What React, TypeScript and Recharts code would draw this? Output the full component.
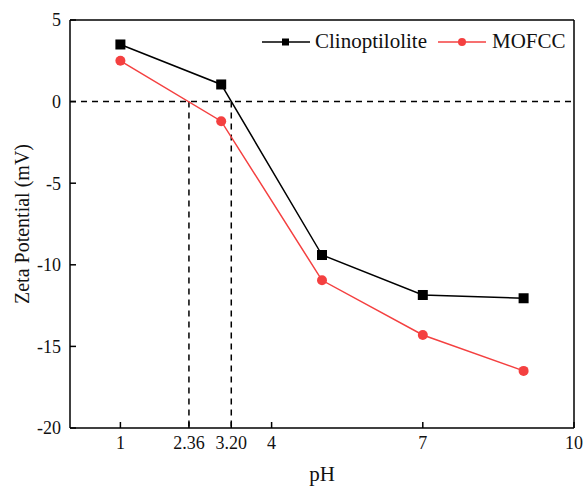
import React from 'react';
import {
  LineChart,
  Line,
  XAxis,
  YAxis,
  Legend,
  ReferenceLine,
} from 'recharts';

const phValues = [1, 3, 5, 7, 9];
const clinoptilolite = [3.5, 1.05, -9.4, -11.85, -12.05];
const mofcc = [2.5, -1.2, -10.95, -14.3, -16.5];
const xTicks = [1, 2.36, 3.2, 4, 7, 10];
const yTicks = [5, 0, -5, -10, -15, -20];
const isoPoints = [2.36, 3.2];

const FONT = '"Liberation Serif", "Times New Roman", serif';
const RED = '#f44040';

const data = phValues.map((ph, i) => ({
  ph,
  clino: clinoptilolite[i],
  mofcc: mofcc[i],
}));

const formatX = (v: number) => (v === 2.36 ? '2.36' : v === 3.2 ? '3.20' : String(v));

const SquareDot = (props: any) => {
  const { cx, cy, index } = props;
  if (cx == null || cy == null) return null;
  return <rect key={`sq-${index}`} x={cx - 5} y={cy - 5} width={10} height={10} fill="#000" />;
};

const CircleDot = (props: any) => {
  const { cx, cy, index } = props;
  if (cx == null || cy == null) return null;
  return <circle key={`ci-${index}`} cx={cx} cy={cy} r={5} fill={RED} />;
};

// legend drawn like the origin-style one: line with marker in the middle
const CustomLegend = () => (
  <div style={{ display: 'flex', alignItems: 'center', fontFamily: FONT, fontSize: 21, color: '#111', whiteSpace: 'nowrap' }}>
    <svg width={48} height={14}>
      <line x1={0} y1={7} x2={48} y2={7} stroke="#000" strokeWidth={1.5} />
      <rect x={20} y={3.5} width={7} height={7} fill="#000" />
    </svg>
    <span style={{ marginLeft: 5 }}>Clinoptilolite</span>
    <svg width={48} height={14} style={{ marginLeft: 11 }}>
      <line x1={0} y1={7} x2={48} y2={7} stroke={RED} strokeWidth={1.5} />
      <circle cx={24} cy={7} r={4} fill={RED} />
    </svg>
    <span style={{ marginLeft: 6 }}>MOFCC</span>
  </div>
);

const tickStyle = { fill: '#111', fontSize: 18, fontFamily: FONT, style: { fontFamily: FONT } };

export default function App() {
  return (
    <div style={{ position: 'absolute', left: 0, top: 0, width: 584, height: 486, background: '#fff', fontFamily: FONT }}>
      <LineChart
        width={584}
        height={486}
        data={data}
        margin={{ top: 20, right: 10, bottom: 0, left: 0 }}
        style={{ fontFamily: FONT }}
      >
        <XAxis
          dataKey="ph"
          type="number"
          domain={[0, 10]}
          ticks={xTicks}
          tickFormatter={formatX}
          height={58}
          stroke="#000"
          strokeWidth={1.5}
          tickSize={-6}
          tickMargin={14}
          tick={tickStyle}
          interval={0}
          label={{ value: 'pH', position: 'center', dy: 17, fill: '#111', fontSize: 21, fontFamily: FONT, style: { fontFamily: FONT } }}
        />
        <YAxis
          type="number"
          domain={[-20, 5]}
          ticks={yTicks}
          width={70}
          stroke="#000"
          strokeWidth={1.5}
          tickSize={-6}
          tickMargin={15}
          tick={tickStyle}
          interval={0}
          label={{ value: 'Zeta Potential (mV)', angle: -90, position: 'center', dx: -13, fill: '#111', fontSize: 20, fontFamily: FONT, style: { fontFamily: FONT } }}
        />
        {/* close the frame on top and right */}
        <ReferenceLine y={5} stroke="#000" strokeWidth={1.5} />
        <ReferenceLine x={10} stroke="#000" strokeWidth={1.5} />
        <ReferenceLine y={0} stroke="#000" strokeWidth={1.5} strokeDasharray="6 5" />
        {isoPoints.map((p) => (
          <ReferenceLine
            key={p}
            segment={[{ x: p, y: 0 }, { x: p, y: -20 }]}
            stroke="#000"
            strokeWidth={1.5}
            strokeDasharray="6 5"
          />
        ))}
        <Legend
          layout="vertical"
          align="center"
          verticalAlign="middle"
          content={<CustomLegend />}
          wrapperStyle={{ top: 29, left: 262, width: 320, height: 20 }}
        />
        <Line
          name="Clinoptilolite"
          type="linear"
          dataKey="clino"
          stroke="#000"
          strokeWidth={1.5}
          dot={SquareDot}
          activeDot={false}
          isAnimationActive={false}
        />
        <Line
          name="MOFCC"
          type="linear"
          dataKey="mofcc"
          stroke={RED}
          strokeWidth={1.5}
          dot={CircleDot}
          activeDot={false}
          isAnimationActive={false}
        />
      </LineChart>
    </div>
  );
}
